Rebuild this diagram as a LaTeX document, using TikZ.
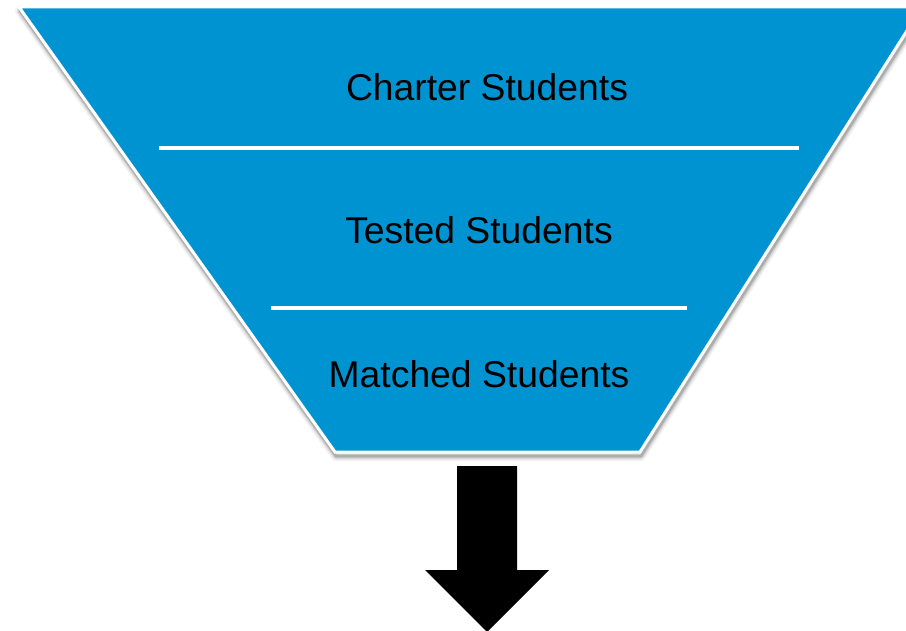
\documentclass[tikz,border=0pt]{standalone}
\usepackage{fontspec}
\setmainfont{Liberation Sans}
\begin{document}
\begin{tikzpicture}[x=1pt,y=-1pt,
  funnelfill/.style={fill=funnelblue,draw=white,line width=3pt,line join=miter},
  sepline/.style={draw=white,line width=4pt},
  lbl/.style={font=\fontsize{37.3}{41}\selectfont,text=black,inner sep=0pt},
  arrowshape/.style={fill=black,draw=none}]
\definecolor{funnelblue}{RGB}{0,147,209}
\useasboundingbox (0,0) rectangle (906,631);
\clip (0,0) rectangle (906,631);
% shadow
\foreach \w/\a in {10/0.05,7/0.07,4.5/0.10,2.5/0.14}{
  \draw[black,opacity=\a,line width=\w pt,line join=round] (19+1,7+4) -- (922+1,7+4) -- (640+1,452+4) -- (335+1,452+4) -- cycle;
}
% funnel
\path[funnelfill] (19,7) coordinate (tl) -- (922,7) coordinate (tr) -- (640,452) coordinate (br) -- (335,452) coordinate (bl) -- cycle;
% separators
\coordinate (s1a) at (159,148); \coordinate (s1b) at (799,148);
\coordinate (s2a) at (271,308); \coordinate (s2b) at (687,308);
\draw[sepline] (s1a) -- (s1b);
\draw[sepline] (s2a) -- (s2b);
% labels
\node[lbl] (charter) at (487,87) {Charter Students};
\node[lbl] (tested) at (479,230) {Tested Students};
\node[lbl] (matched) at (479,374) {Matched Students};
% arrow
\fill[arrowshape] (457,466) -- (517,466) -- (517,570) -- (549,570) -- (487,632) -- (425,570) -- (457,570) -- cycle;
\end{tikzpicture}
\end{document}
